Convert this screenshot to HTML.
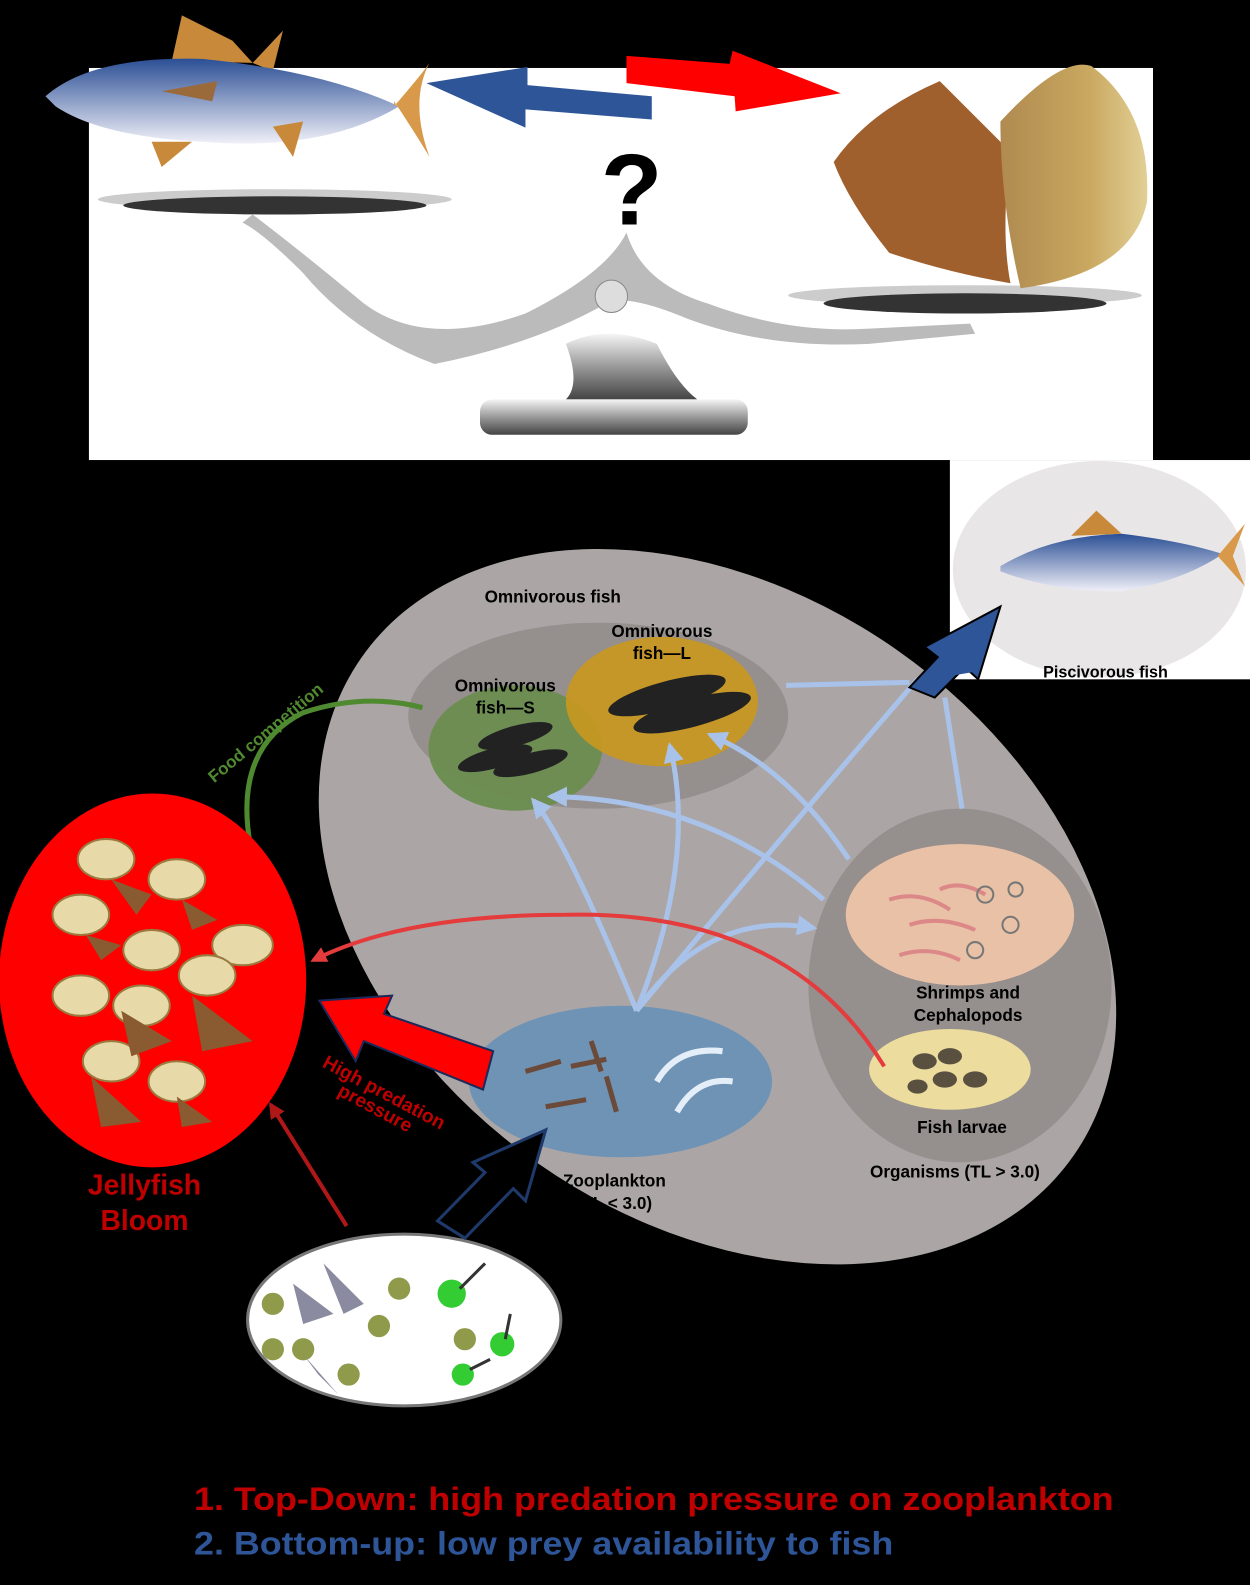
<!DOCTYPE html>
<html><head><meta charset="utf-8"><style>
html,body{margin:0;padding:0;background:#000;}
svg{display:block;}
text{font-family:"Liberation Sans",Arial,sans-serif;font-weight:bold;}
</style></head><body>
<svg width="1250" height="1585" viewBox="0 0 1237 1568" xmlns="http://www.w3.org/2000/svg">
<defs>
<linearGradient id="tuna" x1="0" y1="0" x2="0" y2="1"><stop offset="0" stop-color="#2b4f95"/><stop offset="1" stop-color="#f0f0f8"/></linearGradient>
<linearGradient id="metal" x1="0" y1="0" x2="0" y2="1"><stop offset="0" stop-color="#f5f5f5"/><stop offset="0.5" stop-color="#999"/><stop offset="1" stop-color="#444"/></linearGradient>
<linearGradient id="jf" x1="0" y1="0" x2="1" y2="0"><stop offset="0" stop-color="#b08a50"/><stop offset="0.6" stop-color="#c9a860"/><stop offset="1" stop-color="#e2cf95"/></linearGradient>
<marker id="ah" viewBox="0 0 10 10" refX="8" refY="5" markerWidth="4" markerHeight="4" orient="auto"><path d="M0,0 L10,5 L0,10 Z" fill="#a9c2ea"/></marker>
<marker id="ahr" viewBox="0 0 10 10" refX="8" refY="5" markerWidth="4" markerHeight="4" orient="auto"><path d="M0,0 L10,5 L0,10 Z" fill="#e43c3c"/></marker>
<marker id="ahd" viewBox="0 0 10 10" refX="8" refY="5" markerWidth="4" markerHeight="4" orient="auto"><path d="M0,0 L10,5 L0,10 Z" fill="#b01818"/></marker>
</defs>
<rect width="1237" height="1568" fill="#000"/>
<rect x="88" y="67" width="1053" height="388" fill="#fff"/>
<!-- tuna -->
<path d="M170,60 L180,15 L230,40 L250,62 Z" fill="#c88a3a"/>
<path d="M250,62 L280,30 L270,70 Z" fill="#c88a3a"/>
<path d="M45,95 Q90,55 200,58 Q320,70 395,105 Q320,150 200,140 Q100,135 55,105 Z" fill="url(#tuna)"/>
<path d="M390,105 Q420,70 425,62 Q405,100 425,155 Q410,130 390,100 Z" fill="#d89a4a"/>
<path d="M150,140 L160,165 L190,140 Z" fill="#c88a3a"/>
<path d="M270,125 L290,155 L300,120 Z" fill="#c88a3a"/>
<path d="M160,90 L215,80 L210,100 Z" fill="#9a6a3a"/>
<polygon points="645,95 645,118 520,108 520,126 422,82 522,66 522,84 645,95" fill="#2e5597"/>
<polygon points="620,55 722,63 725,50 832,92 728,110 727,95 620,82" fill="#ff0000"/>
<text x="625" y="222" font-size="100" text-anchor="middle" fill="#000">?</text>
<ellipse cx="272" cy="197" rx="175" ry="10" fill="#ccc"/>
<ellipse cx="272" cy="203" rx="150" ry="9" fill="#333"/>
<path d="M250,212 Q300,250 360,300 Q420,345 520,310 Q600,270 620,230 Q635,280 700,300 Q780,330 860,325 L960,320 L965,330 L860,340 Q760,345 680,315 Q620,290 600,300 Q530,340 430,360 Q350,330 300,270 Q260,230 240,220 Z" fill="#bbb"/>
<circle cx="605" cy="293" r="16" fill="#ddd" stroke="#888"/>
<path d="M560,340 Q600,320 650,340 Q670,380 690,395 L560,395 Q575,380 560,340 Z" fill="url(#metal)"/>
<rect x="475" y="395" width="265" height="35" rx="12" fill="url(#metal)"/>
<ellipse cx="955" cy="292" rx="175" ry="10" fill="#ccc"/>
<ellipse cx="955" cy="300" rx="140" ry="10" fill="#333"/>
<!-- jellyfish top -->
<path d="M825,160 Q860,110 930,80 Q960,110 1000,150 Q990,230 1000,280 Q940,270 880,250 Q840,200 825,160 Z" fill="#a0602e"/>
<path d="M990,120 Q1050,55 1080,65 Q1140,110 1135,200 Q1120,270 1010,285 Q990,200 990,120 Z" fill="url(#jf)"/>
<rect x="940" y="455" width="297" height="217" fill="#fff"/>
<ellipse cx="1088" cy="563" rx="145" ry="107" fill="#e9e6e8"/>
<path d="M990,560 Q1040,530 1110,528 Q1170,535 1210,548 Q1170,575 1110,585 Q1040,585 990,565 Z" fill="url(#tuna)"/>
<path d="M1205,550 L1232,518 L1220,550 L1232,580 Z" fill="#d89a4a"/>
<path d="M1060,530 L1085,505 L1110,528 Z" fill="#c88a3a"/>
<text x="1094" y="670" font-size="16" text-anchor="middle" fill="#000">Piscivorous fish</text>
<ellipse cx="710" cy="897" rx="430" ry="310" transform="rotate(35 710 897)" fill="#aba6a5"/>
<ellipse cx="592" cy="708" rx="188" ry="92" fill="#958f8e"/>
<ellipse cx="510" cy="740" rx="86" ry="62" fill="#6a8d4f" opacity="0.95"/>
<ellipse cx="655" cy="694" rx="95" ry="64" fill="#c9981f" opacity="0.92"/>
<text x="547" y="596" font-size="17" text-anchor="middle">Omnivorous fish</text>
<text x="655" y="630" font-size="17" text-anchor="middle">Omnivorous</text>
<text x="655" y="652" font-size="17" text-anchor="middle">fish—L</text>
<text x="500" y="684" font-size="17" text-anchor="middle">Omnivorous</text>
<text x="500" y="706" font-size="17" text-anchor="middle">fish—S</text>
<g fill="#222"><ellipse cx="660" cy="688" rx="60" ry="14" transform="rotate(-15 660 688)"/><ellipse cx="685" cy="705" rx="60" ry="14" transform="rotate(-15 685 705)"/><ellipse cx="510" cy="728" rx="38" ry="10" transform="rotate(-15 510 728)"/><ellipse cx="490" cy="750" rx="38" ry="10" transform="rotate(-15 490 750)"/><ellipse cx="525" cy="755" rx="38" ry="10" transform="rotate(-15 525 755)"/></g>
<ellipse cx="950" cy="975" rx="150" ry="175" fill="#958f8e"/>
<ellipse cx="950" cy="905" rx="113" ry="70" fill="#e8c1a6"/>
<ellipse cx="940" cy="1058" rx="80" ry="40" fill="#ecdc9e"/>
<g fill="#5a5040"><ellipse cx="915" cy="1050" rx="12" ry="8"/><ellipse cx="940" cy="1045" rx="12" ry="8"/><ellipse cx="935" cy="1068" rx="12" ry="8"/><ellipse cx="965" cy="1068" rx="12" ry="8"/><ellipse cx="908" cy="1075" rx="10" ry="7"/></g>
<g stroke="#d88" stroke-width="4" fill="none"><path d="M880,890 Q910,880 940,900"/><path d="M900,915 Q930,905 965,920"/><path d="M890,945 Q920,935 950,950"/><path d="M930,880 Q950,870 975,885"/></g>
<g stroke="#777" stroke-width="2" fill="none"><circle cx="975" cy="885" r="8"/><circle cx="1000" cy="915" r="8"/><circle cx="965" cy="940" r="8"/><circle cx="1005" cy="880" r="7"/></g>
<text x="958" y="988" font-size="17" text-anchor="middle">Shrimps and</text>
<text x="958" y="1010" font-size="17" text-anchor="middle">Cephalopods</text>
<text x="952" y="1121" font-size="17" text-anchor="middle">Fish larvae</text>
<text x="945" y="1165" font-size="17" text-anchor="middle">Organisms (TL &gt; 3.0)</text>
<ellipse cx="614" cy="1070" rx="150" ry="75" fill="#6f93b5"/>
<g stroke="#6b4a3a" stroke-width="5"><line x1="520" y1="1060" x2="555" y2="1050"/><line x1="540" y1="1095" x2="580" y2="1088"/><line x1="565" y1="1055" x2="600" y2="1048"/><line x1="585" y1="1030" x2="595" y2="1060"/><line x1="600" y1="1065" x2="610" y2="1100"/></g>
<g stroke="#e4eef8" stroke-width="6" fill="none"><path d="M650,1070 Q670,1035 715,1040"/><path d="M670,1100 Q690,1065 725,1070"/></g>
<text x="608" y="1174" font-size="17" text-anchor="middle">Zooplankton</text>
<text x="608" y="1196" font-size="17" text-anchor="middle">(TL &lt; 3.0)</text>
<g stroke="#a9c2ea" stroke-width="5" fill="none">
<path d="M630,1000 Q690,850 663,738" marker-end="url(#ah)"/>
<path d="M630,1000 Q780,820 908,672"/>
<path d="M630,1000 Q560,830 528,792" marker-end="url(#ah)"/>
<path d="M630,1000 Q700,900 805,918" marker-end="url(#ah)"/>
<path d="M840,850 Q780,760 703,727" marker-end="url(#ah)"/>
<path d="M815,890 Q700,790 545,788" marker-end="url(#ah)"/>
<path d="M778,678 L900,675"/>
<path d="M952,800 L935,690"/>
</g>
<polygon points="900,680 928,650 915,640 990,600 968,672 955,660 925,690" fill="#2e5597" stroke="#000" stroke-width="2"/>
<polygon points="920,672 978,620 962,665" fill="#2e5597"/>
<path d="M248,838 Q230,740 300,705 Q360,685 418,700" stroke="#4f8a30" stroke-width="5" fill="none"/>
<text x="0" y="0" font-size="17" fill="#4f8a30" transform="translate(212,775) rotate(-40)">Food competition</text>
<ellipse cx="151" cy="970" rx="152" ry="185" fill="#ff0000"/>
<g fill="#e8d9a8" stroke="#9a7a40" stroke-width="2">
<ellipse cx="105" cy="850" rx="28" ry="20"/><ellipse cx="175" cy="870" rx="28" ry="20"/><ellipse cx="80" cy="905" rx="28" ry="20"/><ellipse cx="150" cy="940" rx="28" ry="20"/><ellipse cx="240" cy="935" rx="30" ry="20"/><ellipse cx="80" cy="985" rx="28" ry="20"/><ellipse cx="205" cy="965" rx="28" ry="20"/><ellipse cx="140" cy="995" rx="28" ry="20"/><ellipse cx="110" cy="1050" rx="28" ry="20"/><ellipse cx="175" cy="1070" rx="28" ry="20"/></g>
<g fill="#8a5a30"><path d="M110,870 L150,885 L135,905 Z"/><path d="M180,890 L215,910 L190,920 Z"/><path d="M85,925 L120,935 L100,950 Z"/><path d="M120,1000 L170,1030 L130,1045 Z"/><path d="M190,985 L250,1030 L200,1040 Z"/><path d="M90,1065 L140,1110 L100,1115 Z"/><path d="M175,1085 L210,1110 L180,1115 Z"/></g>
<text x="143" y="1182" font-size="28" text-anchor="middle" fill="#c00000">Jellyfish</text>
<text x="143" y="1217" font-size="28" text-anchor="middle" fill="#c00000">Bloom</text>
<path d="M875,1055 Q780,900 560,905 Q400,905 310,950" stroke="#e43c3c" stroke-width="4" fill="none" marker-end="url(#ahr)"/>
<polygon points="488,1040 478,1078 360,1030 352,1050 316,990 388,985 380,1003" fill="#ff0000" stroke="#1a2a5a" stroke-width="2"/>
<text x="0" y="0" font-size="19" fill="#c00000" transform="translate(318,1055) rotate(28)">High predation</text>
<text x="0" y="0" font-size="19" fill="#c00000" transform="translate(333,1083) rotate(28)">pressure</text>
<line x1="343" y1="1213" x2="268" y2="1093" stroke="#b01818" stroke-width="4" marker-end="url(#ahd)"/>
<ellipse cx="400" cy="1306" rx="155" ry="85" fill="#fff" stroke="#777" stroke-width="3"/>
<g fill="#8f9a4a"><circle cx="270" cy="1290" r="11"/><circle cx="300" cy="1335" r="11"/><circle cx="375" cy="1312" r="11"/><circle cx="395" cy="1275" r="11"/><circle cx="345" cy="1360" r="11"/><circle cx="270" cy="1335" r="11"/><circle cx="460" cy="1325" r="11"/></g>
<g fill="#8a8aa0"><path d="M290,1270 L330,1300 L300,1310 Z"/><path d="M320,1250 L360,1290 L340,1300 Z"/><path d="M300,1340 L335,1380 L315,1360 Z"/></g>
<g fill="#3c3"><circle cx="447" cy="1280" r="14"/><circle cx="497" cy="1330" r="12"/><circle cx="458" cy="1360" r="11"/></g>
<g stroke="#333" stroke-width="3" fill="none"><path d="M455,1275 L480,1250"/><path d="M500,1325 L505,1300"/><path d="M465,1355 L485,1345"/></g>
<polygon points="433,1208 480,1160 468,1150 540,1118 520,1188 508,1176 460,1225" fill="#000" stroke="#1f3a6a" stroke-width="3"/>
<text x="192" y="1494" font-size="32" fill="#c00000" textLength="910" lengthAdjust="spacingAndGlyphs">1. Top-Down: high predation pressure on zooplankton</text>
<text x="192" y="1538" font-size="32" fill="#2e5597" textLength="692" lengthAdjust="spacingAndGlyphs">2. Bottom-up: low prey availability to fish</text>
</svg>
</body></html>
